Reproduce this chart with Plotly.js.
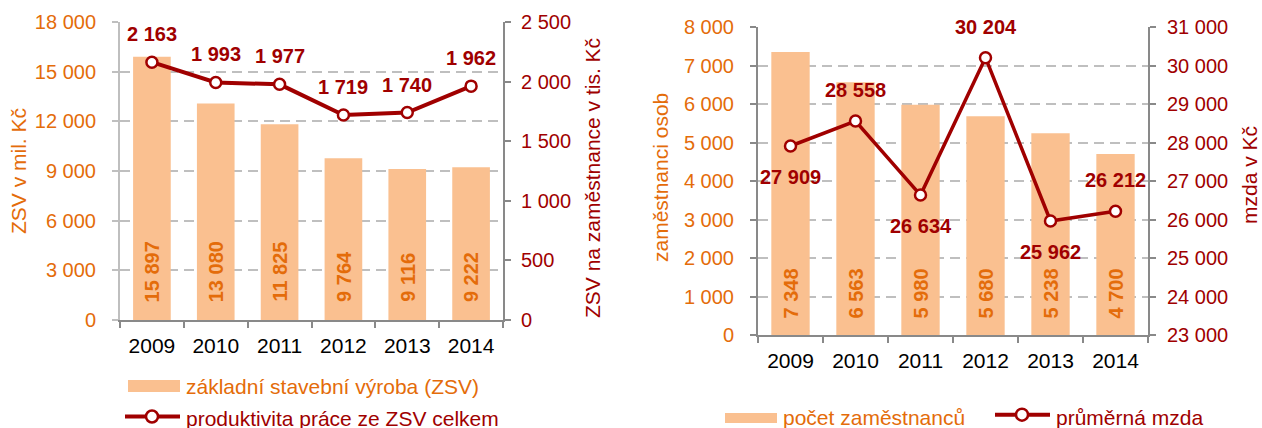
<!DOCTYPE html>
<html>
<head>
<meta charset="utf-8">
<script src="https://cdn.plot.ly/plotly-3.0.1.min.js"></script>
<style>
  html, body { margin: 0; padding: 0; background: #fff; }
  #chart { width: 1262px; height: 428px; }
</style>
</head>
<body>
<div id="chart"></div>
<script>
// data
var years = ["2009", "2010", "2011", "2012", "2013", "2014"];
var zsvValues = [15897, 13080, 11825, 9764, 9116, 9222];
var productivity = [2163, 1993, 1977, 1719, 1740, 1962];
var employees = [7348, 6563, 5980, 5680, 5238, 4700];
var avgWage = [27909, 28558, 26634, 30204, 25962, 26212];

var orange = "#E46C0A";
var barFill = "#FAC090";
var red = "#A00000";
var gridCol = "#BFBFBF";
var axisCol = "#898989";
var font = "Liberation Sans, Arial, sans-serif";

var W = 1262, H = 428;
function px(v) { return v / W; }
function py(v) { return 1 - v / H; }
function fmt(v) { return String(v).replace(/\B(?=(\d{3})+(?!\d))/g, " "); }

var traces = [
  {x: years, y: zsvValues, type: "bar", xaxis: "x", yaxis: "y",
   marker: {color: barFill}, hoverinfo: "skip"},
  {x: years, y: productivity, type: "scatter", mode: "lines+markers", xaxis: "x", yaxis: "y2",
   line: {color: red, width: 4},
   marker: {size: 11, color: "#fff", line: {color: red, width: 2.5}}, cliponaxis: false, hoverinfo: "skip"},
  {x: years, y: employees, type: "bar", xaxis: "x2", yaxis: "y3",
   marker: {color: barFill}, hoverinfo: "skip"},
  {x: years, y: avgWage, type: "scatter", mode: "lines+markers", xaxis: "x2", yaxis: "y4",
   line: {color: red, width: 3.5},
   marker: {size: 11, color: "#fff", line: {color: red, width: 2.5}}, cliponaxis: false, hoverinfo: "skip"}
];

function xAxis(domain, anchor) {
  return {
    domain: domain, anchor: anchor, type: "category",
    categoryorder: "array", categoryarray: years, range: [-0.5, years.length - 0.5],
    showline: true, linecolor: axisCol, linewidth: 2,
    ticks: "outside", tickson: "boundaries", ticklen: 6, tickwidth: 2, tickcolor: axisCol,
    showgrid: false, zeroline: false,
    tickfont: {size: 21, color: "#000", family: font},
    ticklabelstandoff: 6
  };
}

function yAxis(opts) {
  var a = {
    showline: true, linewidth: 2,
    ticks: "outside", ticklen: 6, tickwidth: 2,
    zeroline: false, separatethousands: true, tickformat: ",d",
    fixedrange: true
  };
  for (var k in opts) a[k] = opts[k];
  return a;
}

var leftX = [px(120), px(503)];
var leftY = [py(320), py(22)];
var rightX = [px(758), px(1148)];
var rightY = [py(335), py(27)];

var annotations = [];

// bar labels (vertical, inside bars); x given as category index
years.forEach(function (yr, i) {
  annotations.push({x: i, y: 0, xref: "x", yref: "y", text: "<b>" + fmt(zsvValues[i]) + "</b>",
    textangle: -90, xanchor: "center", yanchor: "bottom", yshift: 16, showarrow: false,
    font: {size: 20, color: orange, family: font}});
  annotations.push({x: i, y: 0, xref: "x2", yref: "y3", text: "<b>" + fmt(employees[i]) + "</b>",
    textangle: -90, xanchor: "center", yanchor: "bottom", yshift: 14, showarrow: false,
    font: {size: 20, color: orange, family: font}});
});

// line labels
years.forEach(function (yr, i) {
  annotations.push({x: i, y: productivity[i], xref: "x", yref: "y2",
    text: "<b>" + fmt(productivity[i]) + "</b>", yshift: 28, showarrow: false,
    font: {size: 20, color: red, family: font}});
});
var wageSide = [-1, 1, -1, 1, -1, 1];
years.forEach(function (yr, i) {
  annotations.push({x: i, y: avgWage[i], xref: "x2", yref: "y4",
    text: "<b>" + fmt(avgWage[i]) + "</b>", yshift: 31 * wageSide[i], showarrow: false,
    font: {size: 20, color: red, family: font}});
});

// axis titles
function vTitle(x, y, text, color) {
  annotations.push({xref: "paper", yref: "paper", x: px(x), y: py(y), text: text,
    xanchor: "center", yanchor: "middle", borderpad: 0,
    textangle: -90, showarrow: false, font: {size: 21, color: color, family: font}});
}
vTitle(18, 171, "ZSV v mil. Kč", orange);
vTitle(592, 178, "ZSV na zaměstnance v tis. Kč", red);
vTitle(660, 178, "zaměstnanci osob", orange);
vTitle(1249, 175, "mzda v Kč", red);

// legends
function legText(x, y, text, color) {
  annotations.push({xref: "paper", yref: "paper", x: px(x), y: py(y), text: text,
    xanchor: "left", yanchor: "middle", showarrow: false,
    font: {size: 21, color: color, family: font}});
}
legText(184, 386, "základní stavební výroba (ZSV)", orange);
legText(184, 418, "produktivita práce ze ZSV celkem", red);
legText(781, 417, "počet zaměstnanců", orange);
legText(1054, 417, "průměrná mzda", red);

var shapes = [
  {type: "rect", xref: "paper", yref: "paper", x0: px(128), x1: px(180), y0: py(392), y1: py(380),
   fillcolor: barFill, line: {width: 0}},
  {type: "line", xref: "paper", yref: "paper", x0: px(125), x1: px(180), y0: py(416.5), y1: py(416.5),
   line: {color: red, width: 4}},
  {type: "circle", xref: "paper", yref: "paper", x0: px(146), x1: px(158), y0: py(422.5), y1: py(410.5),
   fillcolor: "#fff", line: {color: red, width: 2.5}},
  {type: "rect", xref: "paper", yref: "paper", x0: px(725), x1: px(777), y0: py(423), y1: py(413),
   fillcolor: barFill, line: {width: 0}},
  {type: "line", xref: "paper", yref: "paper", x0: px(995), x1: px(1050), y0: py(414.7), y1: py(414.7),
   line: {color: red, width: 4}},
  {type: "circle", xref: "paper", yref: "paper", x0: px(1016), x1: px(1028), y0: py(420.7), y1: py(408.7),
   fillcolor: "#fff", line: {color: red, width: 2.5}}
];

var layout = {
  width: W, height: H,
  margin: {l: 0, r: 0, t: 0, b: 0},
  paper_bgcolor: "#fff", plot_bgcolor: "rgba(0,0,0,0)",
  showlegend: false,
  separators: ", ",
  bargap: 0.41,
  font: {family: font},
  xaxis: xAxis(leftX, "y"),
  xaxis2: xAxis(rightX, "y3"),
  yaxis: yAxis({domain: leftY, anchor: "x", range: [0, 18000], dtick: 3000,
    linecolor: gridCol, tickcolor: gridCol,
    showgrid: true, gridcolor: gridCol, gridwidth: 2, griddash: "10px,6px",
    tickfont: {size: 20, color: orange, family: font}, ticklabelstandoff: 12}),
  yaxis2: yAxis({overlaying: "y", side: "right", anchor: "x", range: [0, 2500], dtick: 500,
    linecolor: axisCol, tickcolor: axisCol, showgrid: false,
    tickfont: {size: 20, color: red, family: font}, ticklabelstandoff: 6}),
  yaxis3: yAxis({domain: rightY, anchor: "x2", range: [0, 8000], dtick: 1000,
    linecolor: axisCol, tickcolor: axisCol,
    showgrid: true, gridcolor: gridCol, gridwidth: 2, griddash: "10px,6px",
    tickfont: {size: 20, color: orange, family: font}, ticklabelstandoff: 12}),
  yaxis4: yAxis({overlaying: "y3", side: "right", anchor: "x2", range: [23000, 31000], dtick: 1000,
    linecolor: axisCol, tickcolor: axisCol, showgrid: false,
    tickfont: {size: 20, color: red, family: font}, ticklabelstandoff: 7}),
  annotations: annotations,
  shapes: shapes
};

Plotly.newPlot("chart", traces, layout, {staticPlot: true, displayModeBar: false});
</script>
</body>
</html>
